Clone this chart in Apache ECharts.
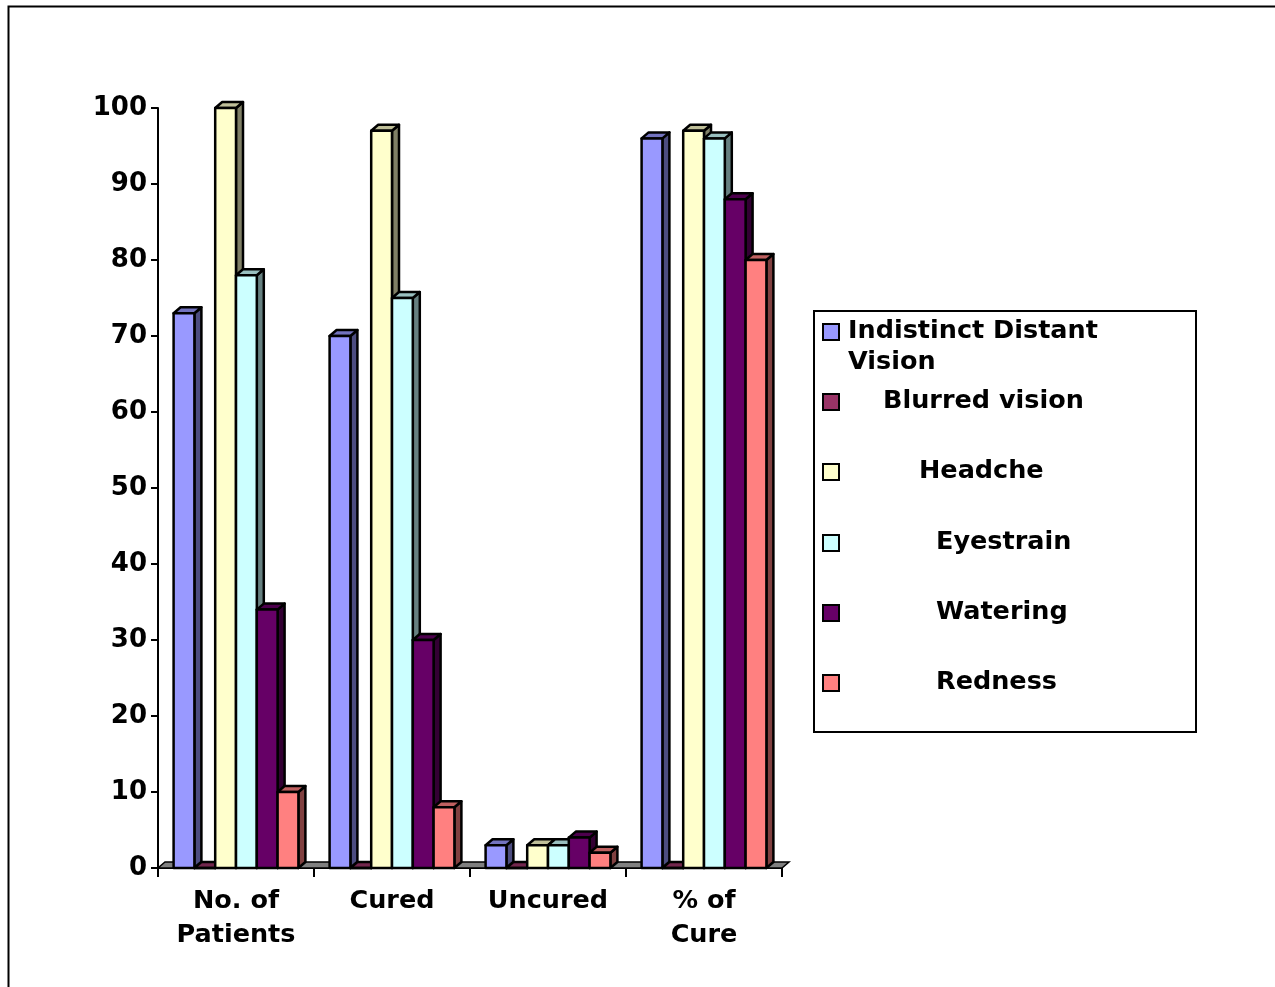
<!DOCTYPE html>
<html>
<head>
<meta charset="utf-8">
<title>Treatment outcome by symptom</title>
<script src="https://cdn.jsdelivr.net/npm/echarts@6/dist/echarts.min.js"></script>
<style>
  html, body { margin: 0; padding: 0; background: #ffffff; }
  #chart { width: 1275px; height: 987px; }
</style>
</head>
<body>
<div id="chart"></div>
<script>
// Categories along the x axis
const categories = ['No. of\nPatients', 'Cured', 'Uncured', '% of\nCure'];

// One list of values per symptom, in category order
const indistinctDistantVision = [73, 70, 3, 96];
const blurredVision = [0, 0, 0, 0];
const headche = [100, 97, 3, 97];
const eyestrain = [78, 75, 3, 96];
const watering = [34, 30, 4, 88];
const redness = [10, 8, 2, 80];

// Legend / series names
const seriesNames = ['Indistinct Distant\nVision', 'Blurred vision', 'Headche', 'Eyestrain', 'Watering', 'Redness'];
const seriesValues = [indistinctDistantVision, blurredVision, headche, eyestrain, watering, redness];

// Y axis ticks
const yMin = 0, yMax = 100, yStep = 10;

// Face colours: front, side (shaded), top (lighter shade)
const frontColors = ['#9999FF', '#993366', '#FFFFCC', '#CCFFFF', '#660066', '#FF8080'];
const sideColors  = ['#4D4D80', '#4D1A33', '#808066', '#668080', '#330033', '#804040'];
const topColors   = ['#7373BF', '#73264D', '#BFBF99', '#99BFBF', '#4D004D', '#BF6060'];

// Pseudo-3D depth of the bars and floor, in pixels
const DX = 7, DY = 6;
const GROUP_RATIO = 0.8;

// Legend layout (text indent from the box's left edge, vertical centre)
const legendBox = { x: 813, y: 310, w: 382, h: 421 };
const legendTextX = [848, 883, 919, 936, 936, 936];
const legendRowY = [331, 401, 471, 542, 612, 682];

const FONT = '"DejaVu Sans", Verdana, sans-serif';

function barRenderer(idx, count) {
  return function (params, api) {
    const cat = api.value(0);
    const val = api.value(1);
    const base = api.coord([cat, 0]);
    const top = api.coord([cat, val]);
    const band = api.size([1, 0])[0];
    const w = band * GROUP_RATIO / count;
    const x0 = base[0] - band * GROUP_RATIO / 2 + idx * w;
    const x1 = x0 + w;
    const yb = base[1], yt = top[1];
    const stroke = { stroke: '#000000', lineWidth: 2.5, lineJoin: 'round' };
    return {
      type: 'group',
      children: [
        {
          type: 'polygon',
          shape: { points: [[x1, yt], [x1 + DX, yt - DY], [x1 + DX, yb - DY], [x1, yb]] },
          style: Object.assign({ fill: sideColors[idx] }, stroke)
        },
        {
          type: 'polygon',
          shape: { points: [[x0, yt], [x0 + DX, yt - DY], [x1 + DX, yt - DY], [x1, yt]] },
          style: Object.assign({ fill: topColors[idx] }, stroke)
        },
        {
          type: 'rect',
          shape: { x: x0, y: yt, width: w, height: yb - yt },
          style: Object.assign({ fill: frontColors[idx] }, stroke)
        }
      ]
    };
  };
}

// Grey floor slab under all categories
function floorRenderer(params, api) {
  const band = api.size([1, 0])[0];
  const first = api.coord([0, 0]);
  const xs = first[0] - band / 2;
  const xe = xs + band * categories.length;
  const yb = first[1];
  return {
    type: 'polygon',
    shape: { points: [[xs, yb], [xe, yb], [xe + DX, yb - DY], [xs + DX, yb - DY]] },
    style: { fill: '#808080', stroke: '#000000', lineWidth: 1.5 }
  };
}

const series = [{
  type: 'custom',
  name: 'floor',
  z: 1,
  silent: true,
  renderItem: floorRenderer,
  data: [[0, 0]],
  encode: { x: 0, y: 1 }
}];

seriesValues.forEach(function (vals, i) {
  series.push({
    type: 'custom',
    name: seriesNames[i],
    z: 2,
    renderItem: barRenderer(i, seriesValues.length),
    data: vals.map(function (v, c) { return [c, v]; }),
    encode: { x: 0, y: 1 }
  });
});

// Outer frame and legend drawn as graphic elements
const graphics = [
  {
    type: 'rect', left: 6, top: 4, z: 0, silent: true,
    shape: { width: 1300, height: 1010 },
    style: { fill: 'none', stroke: '#000000', lineWidth: 2 }
  },
  {
    type: 'rect', left: legendBox.x, top: legendBox.y, z: 10,
    shape: { width: legendBox.w, height: legendBox.h },
    style: { fill: '#ffffff', stroke: '#000000', lineWidth: 2 }
  }
];
seriesNames.forEach(function (name, i) {
  graphics.push({
    type: 'rect', left: 822, top: legendRowY[i] - 8, z: 11,
    shape: { width: 16, height: 16 },
    style: { fill: frontColors[i], stroke: '#000000', lineWidth: 2 }
  });
  graphics.push({
    type: 'text', x: legendTextX[i], y: legendRowY[i] - 15, z: 11,
    style: {
      text: name,
      font: 'bold 25.5px ' + FONT,
      fill: '#000000',
      lineHeight: 31,
      textVerticalAlign: 'top'
    }
  });
});

const chart = echarts.init(document.getElementById('chart'), null, { renderer: 'canvas' });
chart.setOption({
  animation: false,
  backgroundColor: '#ffffff',
  grid: { left: 158, top: 108, width: 624, height: 760, containLabel: false },
  xAxis: {
    type: 'category',
    data: categories,
    axisLine: { show: true, lineStyle: { color: '#000000', width: 2 } },
    axisTick: { show: true, length: 9, alignWithLabel: false, lineStyle: { color: '#000000', width: 2 } },
    axisLabel: {
      margin: 16,
      fontFamily: FONT,
      fontWeight: 'bold',
      fontSize: 25.5,
      lineHeight: 34,
      color: '#000000',
      interval: 0
    },
    splitLine: { show: false }
  },
  yAxis: {
    type: 'value',
    min: yMin,
    max: yMax,
    interval: yStep,
    axisLine: { show: true, lineStyle: { color: '#000000', width: 2 } },
    axisTick: { show: true, length: 7, lineStyle: { color: '#000000', width: 2 } },
    axisLabel: {
      margin: 11,
      fontFamily: FONT,
      fontWeight: 'bold',
      fontSize: 26,
      color: '#000000'
    },
    splitLine: { show: false }
  },
  graphic: graphics,
  series: series
});
</script>
</body>
</html>
